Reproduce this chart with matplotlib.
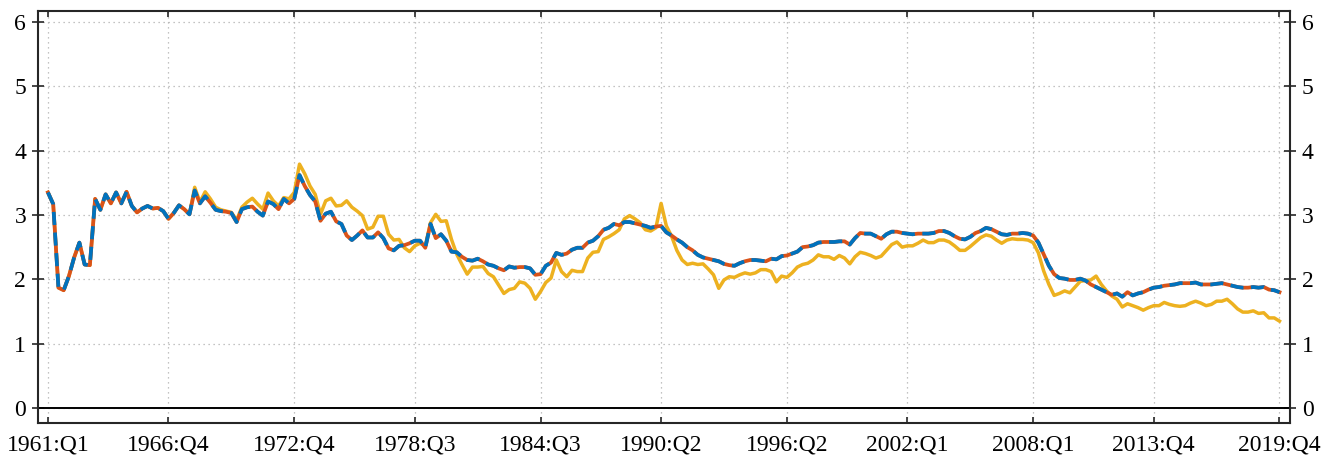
import matplotlib
matplotlib.use("Agg")
import matplotlib.pyplot as plt
import numpy as np

# quarters 1961:Q1 .. 2019:Q4
quarters = [f"{y}:Q{q}" for y in range(1961, 2020) for q in range(1, 5)]

tick_labels = ["1961:Q1", "1966:Q4", "1972:Q4", "1978:Q3", "1984:Q3", "1990:Q2",
               "1996:Q2", "2002:Q1", "2008:Q1", "2013:Q4", "2019:Q4"]

series_red = [
    3.35, 3.17, 1.87, 1.83, 2.05, 2.34, 2.57, 2.23, 2.22, 3.25,
    3.08, 3.32, 3.18, 3.35, 3.18, 3.36, 3.14, 3.04, 3.10, 3.14,
    3.10, 3.11, 3.06, 2.94, 3.03, 3.15, 3.09, 3.01, 3.38, 3.18,
    3.29, 3.19, 3.08, 3.06, 3.05, 3.03, 2.89, 3.09, 3.12, 3.13,
    3.05, 2.99, 3.21, 3.17, 3.09, 3.25, 3.18, 3.25, 3.62, 3.45,
    3.31, 3.21, 2.91, 3.02, 3.05, 2.90, 2.86, 2.68, 2.61, 2.68,
    2.76, 2.65, 2.65, 2.73, 2.64, 2.48, 2.45, 2.52, 2.53, 2.56,
    2.60, 2.60, 2.49, 2.86, 2.64, 2.70, 2.60, 2.43, 2.42, 2.35,
    2.30, 2.29, 2.32, 2.28, 2.23, 2.21, 2.17, 2.14, 2.20, 2.18,
    2.19, 2.19, 2.17, 2.07, 2.08, 2.21, 2.26, 2.41, 2.38, 2.40,
    2.46, 2.49, 2.49, 2.57, 2.60, 2.67, 2.77, 2.80, 2.86, 2.84,
    2.89, 2.89, 2.87, 2.85, 2.83, 2.80, 2.82, 2.83, 2.73, 2.68,
    2.62, 2.57, 2.50, 2.45, 2.38, 2.34, 2.32, 2.30, 2.28, 2.24,
    2.22, 2.21, 2.25, 2.28, 2.30, 2.30, 2.29, 2.28, 2.32, 2.31,
    2.36, 2.37, 2.40, 2.43, 2.50, 2.51, 2.53, 2.57, 2.58, 2.58,
    2.58, 2.59, 2.59, 2.54, 2.64, 2.72, 2.71, 2.71, 2.67, 2.63,
    2.70, 2.74, 2.74, 2.72, 2.71, 2.70, 2.71, 2.71, 2.71, 2.72,
    2.75, 2.75, 2.72, 2.67, 2.63, 2.62, 2.66, 2.72, 2.75, 2.80,
    2.78, 2.74, 2.70, 2.69, 2.71, 2.71, 2.72, 2.71, 2.68, 2.57,
    2.39, 2.21, 2.08, 2.02, 2.01, 1.99, 1.99, 2.01, 1.98, 1.92,
    1.88, 1.84, 1.80, 1.76, 1.78, 1.73, 1.80, 1.75, 1.78, 1.80,
    1.84, 1.87, 1.88, 1.90, 1.91, 1.92, 1.94, 1.94, 1.94, 1.95,
    1.92, 1.92, 1.92, 1.93, 1.94, 1.92, 1.90, 1.88, 1.87, 1.87,
    1.88, 1.87, 1.88, 1.84, 1.83, 1.80,
]

series_blue = list(series_red)

series_yellow = [
    3.35, 3.17, 1.87, 1.83, 2.05, 2.34, 2.57, 2.23, 2.22, 3.25,
    3.08, 3.32, 3.18, 3.35, 3.18, 3.36, 3.14, 3.04, 3.10, 3.14,
    3.10, 3.11, 3.06, 2.94, 3.03, 3.15, 3.09, 3.01, 3.43, 3.20,
    3.36, 3.25, 3.12, 3.08, 3.06, 3.04, 2.92, 3.12, 3.20, 3.26,
    3.17, 3.09, 3.34, 3.22, 3.14, 3.27, 3.25, 3.35, 3.79, 3.64,
    3.45, 3.32, 3.01, 3.22, 3.26, 3.14, 3.15, 3.22, 3.12, 3.06,
    2.99, 2.78, 2.81, 2.98, 2.98, 2.70, 2.61, 2.62, 2.49, 2.43,
    2.52, 2.56, 2.52, 2.88, 3.01, 2.90, 2.91, 2.62, 2.39, 2.23,
    2.08, 2.19, 2.19, 2.20, 2.09, 2.04, 1.91, 1.78, 1.84, 1.86,
    1.96, 1.94, 1.86, 1.69, 1.81, 1.95, 2.02, 2.30, 2.12, 2.04,
    2.14, 2.12, 2.12, 2.33, 2.42, 2.43, 2.62, 2.66, 2.71, 2.77,
    2.94, 2.99, 2.94, 2.88, 2.77, 2.75, 2.80, 3.18, 2.83, 2.67,
    2.45, 2.30, 2.23, 2.25, 2.23, 2.24, 2.16, 2.07, 1.86, 1.99,
    2.04, 2.03, 2.07, 2.10, 2.08, 2.10, 2.15, 2.15, 2.12, 1.96,
    2.05, 2.03, 2.10, 2.19, 2.23, 2.25, 2.30, 2.38, 2.35, 2.35,
    2.31, 2.37, 2.33, 2.24, 2.35, 2.42, 2.40, 2.37, 2.33, 2.36,
    2.45, 2.54, 2.58, 2.50, 2.52, 2.52, 2.56, 2.61, 2.57, 2.57,
    2.61, 2.61, 2.58, 2.52, 2.45, 2.45, 2.51, 2.58, 2.65, 2.69,
    2.67, 2.61, 2.56, 2.61, 2.63, 2.62, 2.62, 2.61, 2.57, 2.41,
    2.13, 1.92, 1.75, 1.78, 1.82, 1.79, 1.88, 1.97, 1.98, 1.99,
    2.05, 1.92, 1.82, 1.74, 1.69, 1.57, 1.62, 1.59, 1.56, 1.52,
    1.56, 1.59, 1.59, 1.64, 1.61, 1.59, 1.58, 1.59, 1.63, 1.66,
    1.63, 1.59, 1.61, 1.66, 1.66, 1.69, 1.62, 1.54, 1.49, 1.49,
    1.51, 1.47, 1.48, 1.40, 1.40, 1.35,
]

y_ticks = [0, 1, 2, 3, 4, 5, 6]

plt.rcParams['font.family'] = ['Liberation Serif', 'DejaVu Serif']
plt.rcParams['mathtext.fontset'] = 'stix'

fig = plt.figure(figsize=(13.38, 4.68), dpi=100)
ax = fig.add_axes([0.0284, 0.0962, 0.9357, 0.8803])

x = np.arange(len(quarters))
ax.plot(x, series_yellow, color='#EDB120', lw=2.5, zorder=3)
ax.plot(x, series_red, color='#D95319', lw=2.7, zorder=4)
ax.plot(x, series_blue, color='#0072BD', lw=2.7, zorder=5,
        linestyle=(0, (3.5, 2.0)))
ax.axhline(0, color='black', lw=1.4, zorder=2)

tick_pos = [quarters.index(t) for t in tick_labels]
ax.set_xticks(tick_pos)
ax.set_xticklabels(tick_labels)
ax.set_yticks(y_ticks)
ax.set_xlim(-1.9, 237.0)
ax.set_ylim(-0.233, 6.17)

ax.grid(True, linestyle=(0, (1, 3)), color='#b0b0b0', lw=0.9, zorder=0)

for s in ax.spines.values():
    s.set_linewidth(1.5)
    s.set_color('#262626')

ax.tick_params(axis='x', direction='in', length=4, width=1.2, top=True,
               labelsize=17, pad=8, colors='#262626', labelcolor='black')
ax.tick_params(axis='y', direction='inout', length=9, width=1.2, right=True,
               labelright=True, labelsize=17, pad=4, colors='#262626',
               labelcolor='black')

fig.savefig('out.png', dpi=100)
